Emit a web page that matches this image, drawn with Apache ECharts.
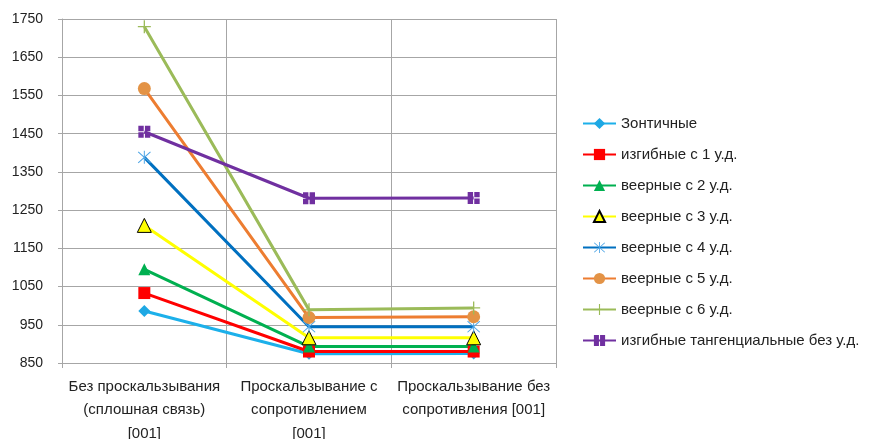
<!DOCTYPE html>
<html>
<head>
<meta charset="utf-8">
<script src="https://cdn.jsdelivr.net/npm/echarts@6/dist/echarts.min.js"></script>
<style>
  html, body { margin: 0; padding: 0; background: #fff; }
  #chart { width: 873px; height: 439px; }
</style>
</head>
<body>
<div id="chart"></div>
<script>
// категории по оси X
var categories = [
  'Без проскальзывания\n(сплошная связь)\n[001]',
  'Проскальзывание с\nсопротивлением\n[001]',
  'Проскальзывание без\nсопротивления [001]'
];
var seriesNames = [
  'Зонтичные',
  'изгибные с 1 у.д.',
  'веерные с 2 у.д.',
  'веерные с 3 у.д.',
  'веерные с 4 у.д.',
  'веерные с 5 у.д.',
  'веерные с 6 у.д.',
  'изгибные тангенциальные без у.д.'
];
// значения по сериям
var zont = [986, 874, 875];
var izg1 = [1033, 880, 880];
var veer2 = [1095, 893, 893];
var veer3 = [1210, 916, 916];
var veer4 = [1388, 945, 945];
var veer5 = [1568, 969, 971];
var veer6 = [1730, 989, 994];
var izgTang = [1455, 1281, 1282];
var yTicks = [850, 950, 1050, 1150, 1250, 1350, 1450, 1550, 1650, 1750];

var asterisk = 'path://M9.3 0L10.7 0L10.7 20L9.3 20Z M1 2L2 1L19 18L18 19Z M18 1L19 2L2 19L1 18Z';
var plus = 'path://M9 0L11 0L11 20L9 20Z M0 9L20 9L20 11L0 11Z';
var squarePlus = 'path://M0 0H9V9H0Z M11 0H20V9H11Z M0 11H9V20H0Z M11 11H20V20H11Z';

var myChart = echarts.init(document.getElementById('chart'));

function mkSeries(name, data, lineColor, markColor, symbol, size, extra) {
  var s = {
    name: name,
    type: 'line',
    data: data,
    symbol: symbol,
    symbolSize: size,
    showAllSymbol: true,
    lineStyle: { color: lineColor, width: 3 },
    itemStyle: { color: markColor },
    emphasis: { disabled: true }
  };
  if (extra) {
    for (var k in extra) s[k] = extra[k];
  }
  return s;
}

var option = {
  animation: false,
  textStyle: { fontFamily: 'Liberation Sans', color: '#222' },
  grid: { left: 62, right: 317, top: 19, bottom: 76, outerBoundsMode: 'none', containLabel: false },
  legend: {
    orient: 'vertical',
    left: 577,
    top: 111,
    itemWidth: 33,
    itemHeight: 14,
    itemGap: 16,
    textStyle: { fontSize: 15, color: '#222', fontFamily: 'Liberation Sans' },
    data: seriesNames
  },
  xAxis: {
    type: 'category',
    data: categories,
    boundaryGap: true,
    axisLine: { lineStyle: { color: '#a6a6a6', width: 1 } },
    axisTick: { show: true, length: 5, lineStyle: { color: '#a6a6a6' } },
    splitLine: { show: true, lineStyle: { color: '#a6a6a6', width: 1 } },
    axisLabel: { fontSize: 15, lineHeight: 23.5, margin: 12, color: '#222', interval: 0 }
  },
  yAxis: {
    type: 'value',
    min: yTicks[0],
    max: yTicks[yTicks.length - 1],
    interval: 100,
    axisLine: { show: true, lineStyle: { color: '#a6a6a6' } },
    axisTick: { show: true, length: 4, lineStyle: { color: '#a6a6a6' } },
    splitLine: { lineStyle: { color: '#a6a6a6', width: 1 } },
    axisLabel: { fontSize: 14, margin: 19, color: '#222', formatter: function (v) { return String(v); } }
  },
  series: [
    mkSeries(seriesNames[0], zont, '#1cb0ea', '#1ea8e4', 'diamond', 12),
    mkSeries(seriesNames[1], izg1, '#ff0000', '#ff0000', 'rect', 12),
    mkSeries(seriesNames[2], veer2, '#00b050', '#00b050', 'triangle', 12),
    mkSeries(seriesNames[3], veer3, '#ffff00', '#ffff00', 'triangle', 14,
      { itemStyle: { color: '#ffff00', borderColor: '#000', borderWidth: 1 } }),
    mkSeries(seriesNames[4], veer4, '#0070c0', '#4fa6e6', asterisk, 13),
    mkSeries(seriesNames[5], veer5, '#ed7d31', '#e39346', 'circle', 13),
    mkSeries(seriesNames[6], veer6, '#9bbb59', '#9bbb59', plus, 13),
    mkSeries(seriesNames[7], izgTang, '#7030a0', '#7030a0', squarePlus, 12)
  ]
};
myChart.setOption(option);
</script>
</body>
</html>
